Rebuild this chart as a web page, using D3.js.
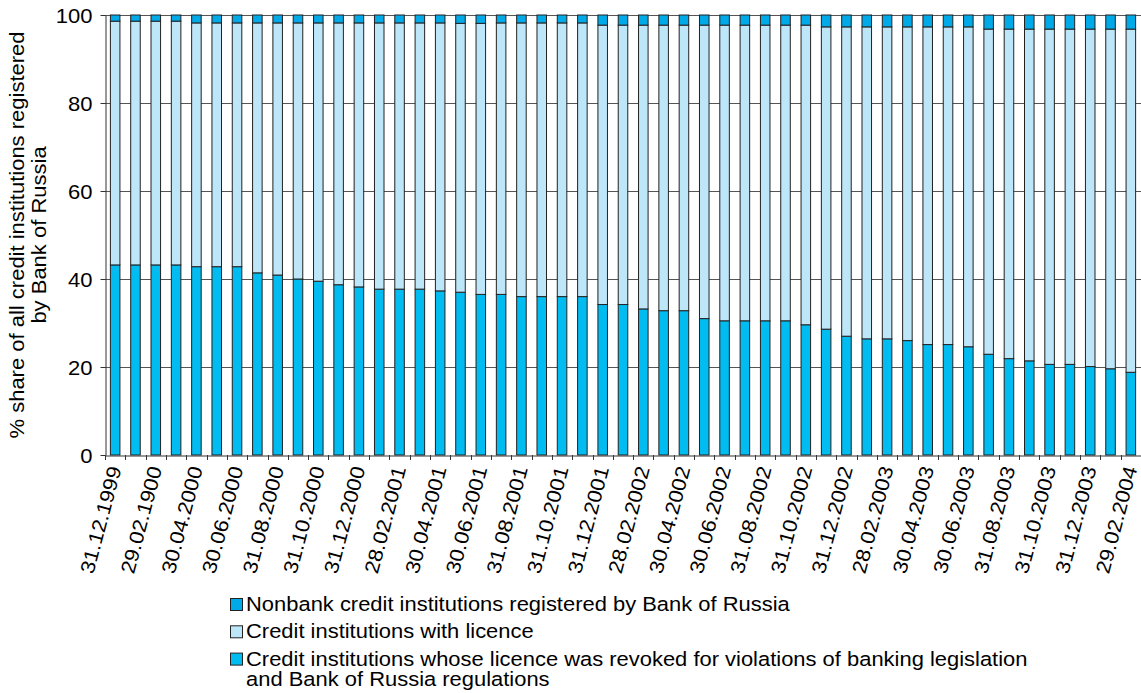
<!DOCTYPE html>
<html>
<head>
<meta charset="utf-8">
<script src="https://cdn.jsdelivr.net/npm/d3@7"></script>
<style>
  html, body { margin: 0; padding: 0; background: #fff; }
  svg { display: block; }
  text { font-family: "Liberation Sans", Arial, Helvetica, sans-serif; fill: #000; }
</style>
</head>
<body>
<svg id="chart" width="1141" height="693"></svg>
<script>
// ---- data ----
const categories = [
  "31.12.1999","31.01.2000","29.02.2000","31.03.2000","30.04.2000","31.05.2000","30.06.2000","31.07.2000","31.08.2000","30.09.2000",
  "31.10.2000","30.11.2000","31.12.2000","31.01.2001","28.02.2001","31.03.2001","30.04.2001","31.05.2001","30.06.2001","31.07.2001",
  "31.08.2001","30.09.2001","31.10.2001","30.11.2001","31.12.2001","31.01.2002","28.02.2002","31.03.2002","30.04.2002","31.05.2002",
  "30.06.2002","31.07.2002","31.08.2002","30.09.2002","31.10.2002","30.11.2002","31.12.2002","31.01.2003","28.02.2003","31.03.2003",
  "30.04.2003","31.05.2003","30.06.2003","31.07.2003","31.08.2003","30.09.2003","31.10.2003","30.11.2003","31.12.2003","31.01.2004",
  "29.02.2004"
];
const tickLabels = [
  "31.12.1999","29.02.1900","30.04.2000","30.06.2000","31.08.2000","31.10.2000","31.12.2000","28.02.2001","30.04.2001",
  "30.06.2001","31.08.2001","31.10.2001","31.12.2001","28.02.2002","30.04.2002","30.06.2002","31.08.2002","31.10.2002",
  "31.12.2002","28.02.2003","30.04.2003","30.06.2003","31.08.2003","31.10.2003","31.12.2003","29.02.2004"
];
// Credit institutions whose licence was revoked (bottom segment)
const revoked = [
  43.2,43.2,43.2,43.2,42.8,42.8,42.8,41.4,40.9,40.0,
  39.5,38.7,38.2,37.7,37.7,37.7,37.3,37.0,36.5,36.5,
  36.0,36.0,36.0,36.0,34.2,34.2,33.2,32.8,32.8,31.0,
  30.5,30.5,30.5,30.5,29.6,28.6,27.0,26.4,26.4,26.0,
  25.1,25.1,24.6,22.9,21.9,21.4,20.6,20.6,20.1,19.6,
  18.8
];
// Credit institutions with licence (middle segment)
const licensed = [
  55.4,55.4,55.4,55.4,55.4,55.4,55.4,56.8,57.3,58.2,
  58.7,59.5,60.0,60.5,60.5,60.5,60.9,61.1,61.6,61.7,
  62.2,62.2,62.2,62.2,63.5,63.5,64.5,64.9,64.9,66.7,
  67.2,67.2,67.2,67.2,68.1,68.7,70.3,70.9,70.9,71.3,
  72.2,72.2,72.7,73.9,74.9,75.4,76.2,76.2,76.7,77.2,
  78.0
];
// Nonbank credit institutions registered by Bank of Russia (top segment)
const nonbank = [
  1.4,1.4,1.4,1.4,1.8,1.8,1.8,1.8,1.8,1.8,
  1.8,1.8,1.8,1.8,1.8,1.8,1.8,1.9,1.9,1.8,
  1.8,1.8,1.8,1.8,2.3,2.3,2.3,2.3,2.3,2.3,
  2.3,2.3,2.3,2.3,2.3,2.7,2.7,2.7,2.7,2.7,
  2.7,2.7,2.7,3.2,3.2,3.2,3.2,3.2,3.2,3.2,
  3.2
];
const yTicks = [0, 20, 40, 60, 80, 100];
const seriesKeys = ["revoked", "licensed", "nonbank"];
const seriesColors = { revoked: "#00bcf1", licensed: "#bee6f9", nonbank: "#00a9e8" };
const legendItems = [
  { key: "nonbank", lines: ["Nonbank credit institutions registered by Bank of Russia"] },
  { key: "licensed", lines: ["Credit institutions with licence"] },
  { key: "revoked", lines: ["Credit institutions whose licence was revoked for violations of banking legislation", "and Bank of Russia regulations"] }
];
const yTitle = ["% share of all credit institutions registered", "by Bank of Russia"];

// ---- layout ----
const W = 1141, H = 693;
const plot = { left: 105, right: 1141, top: 15, bottom: 455 };
const FS = 20, SX = 1.1;
const LFS = 19.5, LSX = 1.125;
const FONT = '"Liberation Sans", Arial, sans-serif';

const svg = d3.select("#chart");

const table = categories.map((c, i) => ({ cat: c, revoked: revoked[i], licensed: licensed[i], nonbank: nonbank[i] }));
const stacked = d3.stack().keys(seriesKeys)(table);

const x = d3.scaleBand().domain(categories).range([plot.left, plot.right])
  .paddingInner(0.53).paddingOuter(0.265);
const y = d3.scaleLinear().domain([0, 100]).range([plot.bottom, plot.top]);

// gridlines
svg.append("g").selectAll("line").data(yTicks.filter(v => v > 0)).join("line")
  .attr("x1", plot.left).attr("x2", plot.right)
  .attr("y1", d => Math.round(y(d)) + 0.5).attr("y2", d => Math.round(y(d)) + 0.5)
  .attr("stroke", "#555").attr("stroke-width", 1);

// bars
svg.append("g").selectAll("g").data(stacked).join("g")
  .attr("fill", d => seriesColors[d.key])
  .selectAll("rect").data(d => d).join("rect")
  .attr("x", d => x(d.data.cat))
  .attr("width", x.bandwidth())
  .attr("y", d => y(d[1]))
  .attr("height", d => y(d[0]) - y(d[1]))
  .attr("stroke", "#222").attr("stroke-width", 1);

// y axis
const yAxis = svg.append("g").attr("transform", `translate(${plot.left + 0.5},0)`)
  .call(d3.axisLeft(y).tickValues(yTicks).tickSize(5).tickSizeOuter(0).tickFormat(d3.format("d")));
yAxis.select(".domain").attr("stroke", "#333");
yAxis.selectAll(".tick line").attr("stroke", "#333");
yAxis.selectAll(".tick text")
  .attr("x", null).attr("dy", "0.36em")
  .attr("text-anchor", "end")
  .attr("transform", `translate(-13,0) scale(${SX},1)`)
  .style("font-size", FS + "px")
  .style("font-family", FONT);

// x axis (labels)
const xAxis = svg.append("g").attr("transform", `translate(0,${plot.bottom + 0.5})`)
  .call(d3.axisBottom(x).tickSize(0).tickSizeOuter(0)
    .tickFormat((d, i) => (i % 2 === 0 ? tickLabels[i / 2] : "")));
xAxis.select(".domain").attr("stroke", "#333");
xAxis.selectAll(".tick text")
  .attr("y", null).attr("dy", null)
  .attr("text-anchor", "end")
  .attr("transform", `translate(6.5,13) rotate(-75) scale(${SX},1)`)
  .style("font-size", FS + "px")
  .style("font-family", FONT);

// x boundary ticks
const boundaries = categories.map(c => x(c) + x.bandwidth() / 2 - x.step() / 2)
  .concat([x(categories[categories.length - 1]) + x.bandwidth() / 2 + x.step() / 2]);
svg.append("g").selectAll("line").data(boundaries).join("line")
  .attr("x1", d => Math.round(d) + 0.5).attr("x2", d => Math.round(d) + 0.5)
  .attr("y1", plot.bottom).attr("y2", plot.bottom + 5)
  .attr("stroke", "#333").attr("stroke-width", 1);

// y title
const yt = svg.append("g").attr("transform", `translate(24,${(plot.top + plot.bottom) / 2}) rotate(-90)`);
yTitle.forEach((t, i) => {
  yt.append("text").attr("text-anchor", "middle")
    .attr("transform", `translate(0,${i * 22}) scale(${SX},1)`)
    .style("font-size", FS + "px")
    .text(t);
});

// legend
const lg = svg.append("g").attr("transform", "translate(230,598)");
let rowY = 0;
legendItems.forEach((it) => {
  lg.append("rect").attr("x", 0.5).attr("y", rowY + 0.5).attr("width", 12).attr("height", 12)
    .attr("fill", seriesColors[it.key]).attr("stroke", "#222").attr("stroke-width", 1);
  it.lines.forEach((ln, j) => {
    lg.append("text")
      .attr("transform", `translate(16,${rowY + 13 + j * 20}) scale(${LSX},1)`)
      .style("font-size", LFS + "px")
      .text(ln);
  });
  rowY += 27.3;
});
</script>
</body>
</html>
